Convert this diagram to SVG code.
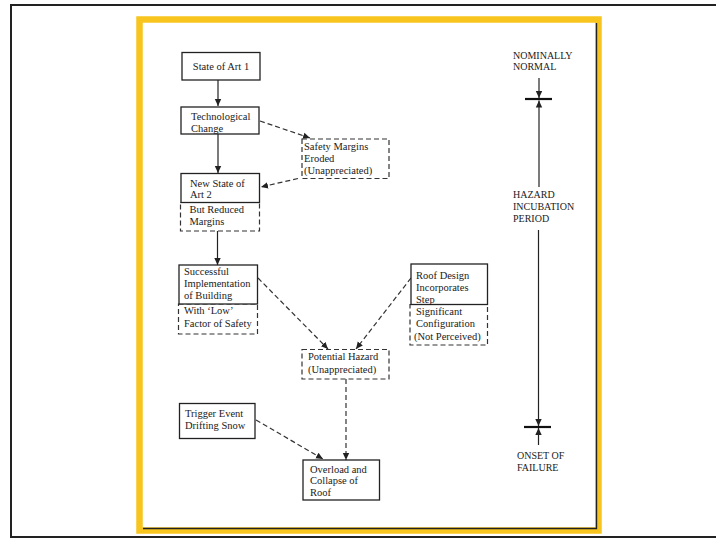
<svg xmlns="http://www.w3.org/2000/svg" width="716" height="539" viewBox="0 0 716 539">
<style>
.t{font-family:"Liberation Serif","Times New Roman",serif;font-size:10.5px;fill:#1a1a1a}
.c{font-family:"Liberation Serif","Times New Roman",serif;font-size:10px;fill:#1a1a1a}
.box{fill:#fff;stroke:#222;stroke-width:1.3}
.dbox{fill:#fff;stroke:#333;stroke-width:1.2;stroke-dasharray:5 3}
.ln{stroke:#222;stroke-width:1.2;fill:none}
.dl{stroke:#333;stroke-width:1.2;fill:none;stroke-dasharray:5 3}
</style>
<defs>
<marker id="ah" markerWidth="8" markerHeight="8" refX="7" refY="4" orient="auto" markerUnits="userSpaceOnUse">
<path d="M0,0.8 L7,4 L0,7.2 Z" fill="#222"/>
</marker>
</defs>
<rect x="0" y="0" width="716" height="539" fill="#fff"/>
<rect id="frame" x="11" y="5" width="720" height="532" fill="none" stroke="#222" stroke-width="2"/>
<rect id="yellow" x="139.5" y="19.5" width="459" height="511" fill="none" stroke="#f7c51e" stroke-width="6.5"/>
<path d="M596.5,23 V528.5 H143" fill="none" stroke="#222" stroke-width="1.4"/>

<g id="connectors">
<line class="ln" x1="218" y1="80" x2="218" y2="106" marker-end="url(#ah)"/>
<line class="ln" x1="218" y1="134" x2="218" y2="173" marker-end="url(#ah)"/>
<line class="dl" x1="260" y1="121" x2="310" y2="138" marker-end="url(#ah)"/>
<line class="dl" x1="298" y1="178.5" x2="261" y2="187" marker-end="url(#ah)"/>
<line class="ln" x1="217.5" y1="231" x2="217.5" y2="265" marker-end="url(#ah)"/>
<line class="dl" x1="258" y1="278" x2="328" y2="349" marker-end="url(#ah)"/>
<line class="dl" x1="411" y1="278" x2="356" y2="349" marker-end="url(#ah)"/>
<line class="dl" x1="346" y1="379" x2="346" y2="460" marker-end="url(#ah)"/>
<line class="dl" x1="256" y1="420" x2="323" y2="459" marker-end="url(#ah)"/>
</g>

<g id="state1">
<rect class="box" x="182" y="52.5" width="78" height="27.5"/>
<text class="t" x="221" y="69.5" text-anchor="middle">State of Art 1</text>
</g>
<g id="tech">
<rect class="box" x="181" y="107" width="78" height="27"/>
<text class="t" x="191" y="120">Technological</text>
<text class="t" x="191" y="131.5">Change</text>
</g>
<g id="safety">
<rect class="dbox" x="302" y="139" width="87" height="39.5"/>
<text class="t" x="304" y="150">Safety Margins</text>
<text class="t" x="304" y="161.5">Eroded</text>
<text class="t" x="304" y="173.5">(Unappreciated)</text>
</g>
<g id="newstate">
<rect class="dbox" x="180.5" y="202.5" width="79" height="28.5"/>
<rect class="box" x="181" y="173.5" width="78.5" height="29"/>
<text class="t" x="190" y="186.5">New State of</text>
<text class="t" x="190" y="198">Art 2</text>
<text class="t" x="189.5" y="213">But Reduced</text>
<text class="t" x="189.5" y="225">Margins</text>
</g>
<g id="success">
<rect class="dbox" x="178.5" y="304" width="79" height="30"/>
<rect class="box" x="179" y="265" width="78.5" height="39"/>
<text class="t" x="184" y="275">Successful</text>
<text class="t" x="184" y="287">Implementation</text>
<text class="t" x="184" y="298.5">of Building</text>
<text class="t" x="184" y="314">With ‘Low’</text>
<text class="t" x="184" y="327">Factor of Safety</text>
</g>
<g id="roof">
<rect class="dbox" x="410" y="304.5" width="77.5" height="40.5"/>
<rect class="box" x="411" y="264" width="76.5" height="40.5"/>
<text class="t" x="416" y="278.5">Roof Design</text>
<text class="t" x="416" y="291">Incorporates</text>
<text class="t" x="416" y="302.5">Step</text>
<text class="t" x="416" y="315">Significant</text>
<text class="t" x="416" y="327">Configuration</text>
<text class="t" x="414" y="339.5">(Not Perceived)</text>
</g>
<g id="potential">
<rect class="dbox" x="302" y="349.5" width="87" height="29.5"/>
<text class="t" x="308" y="360">Potential Hazard</text>
<text class="t" x="308" y="372.5">(Unappreciated)</text>
</g>
<g id="trigger">
<rect class="box" x="179.5" y="403.5" width="75.5" height="35"/>
<text class="t" x="185" y="417">Trigger Event</text>
<text class="t" x="185" y="428.5">Drifting Snow</text>
</g>
<g id="overload">
<rect class="box" x="303" y="460" width="76.5" height="40"/>
<text class="t" x="310" y="472.5">Overload and</text>
<text class="t" x="310" y="484">Collapse of</text>
<text class="t" x="310" y="496">Roof</text>
</g>

<g id="timeline">
<text class="c" x="513" y="58.5">NOMINALLY</text>
<text class="c" x="513" y="70">NORMAL</text>
<line class="ln" x1="539" y1="78" x2="539" y2="98" marker-end="url(#ah)"/>
<line x1="525" y1="99" x2="552" y2="99" stroke="#111" stroke-width="2.2"/>
<line class="ln" x1="539" y1="187" x2="539" y2="100.5" marker-end="url(#ah)"/>
<text class="c" x="513" y="197.5">HAZARD</text>
<text class="c" x="513" y="209.5">INCUBATION</text>
<text class="c" x="513" y="221.5">PERIOD</text>
<line class="ln" x1="538.5" y1="230" x2="538.5" y2="426" marker-end="url(#ah)"/>
<line x1="524" y1="427" x2="551" y2="427" stroke="#111" stroke-width="2.2"/>
<line class="ln" x1="538.5" y1="445" x2="538.5" y2="428" marker-end="url(#ah)"/>
<text class="c" x="517" y="458.5">ONSET OF</text>
<text class="c" x="517" y="471">FAILURE</text>
</g>
</svg>
